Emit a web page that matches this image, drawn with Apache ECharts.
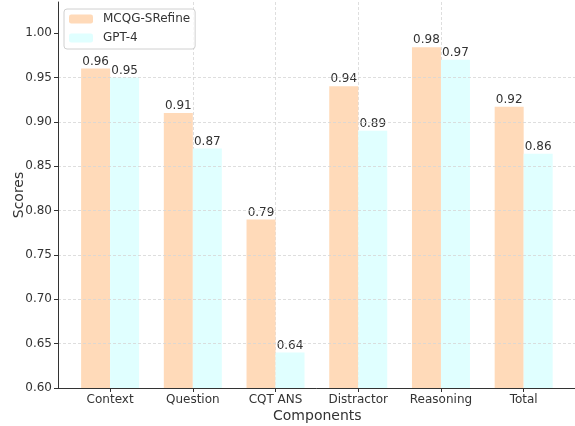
<!DOCTYPE html>
<html>
<head>
<meta charset="utf-8">
<script src="https://cdn.jsdelivr.net/npm/echarts@6/dist/echarts.min.js"></script>
<style>
html,body{margin:0;padding:0;background:#fff;}
#chart{width:575px;height:426px;}
</style>
</head>
<body>
<div id="chart"></div>
<script>
var categories = ["Context", "Question", "CQT ANS", "Distractor", "Reasoning", "Total"];
var seriesNames = ["MCQG-SRefine", "GPT-4"];
var mcqgScores = [0.96, 0.91, 0.79, 0.94, 0.984, 0.917];
var gpt4Scores = [0.95, 0.87, 0.64, 0.89, 0.97, 0.864];
var yTicks = [0.60, 0.65, 0.70, 0.75, 0.80, 0.85, 0.90, 0.95, 1.00];
var xTicks = [0, 1, 2, 3, 4, 5];

var FONT = "DejaVu Sans";
var TXT = "#333";

function toPairs(arr) { return arr.map(function (v, i) { return [i, v]; }); }

var chart = echarts.init(document.getElementById('chart'), null, {renderer: 'canvas'});
var labelOpt = {
  show: true, position: 'top', distance: 1,
  fontFamily: FONT, fontSize: 12, color: TXT,
  formatter: function (p) { return p.value[1].toFixed(2); }
};
chart.setOption({
  animation: false,
  backgroundColor: '#fff',
  textStyle: {fontFamily: FONT},
  grid: {left: 58, right: -1.6, top: 2, bottom: 38, containLabel: false, outerBoundsMode: 'none'},
  legend: {
    left: 64, top: 9,
    orient: 'vertical',
    padding: [4, 5, 5, 5],
    itemWidth: 24, itemHeight: 9, itemGap: 7,
    backgroundColor: 'rgba(255,255,255,0.8)',
    borderColor: '#d0d0d0', borderWidth: 1, borderRadius: 3,
    textStyle: {fontFamily: FONT, fontSize: 12, color: TXT, padding: [0, 0, 0, 5]},
    data: seriesNames
  },
  xAxis: {
    type: 'value', min: -0.63, max: 5.64,
    name: 'Components', nameLocation: 'middle', nameGap: 21,
    nameMoveOverlap: false,
    nameTextStyle: {fontFamily: FONT, fontSize: 14, color: TXT},
    axisLine: {show: true, onZero: false, lineStyle: {color: '#333', width: 1}},
    axisTick: {show: true, length: 4, customValues: xTicks, lineStyle: {color: '#333'}},
    axisLabel: {
      customValues: xTicks, margin: 6,
      fontFamily: FONT, fontSize: 12, color: TXT,
      formatter: function (v) { return categories[Math.round(v)] || ''; }
    },
    splitLine: {show: true, showMinLine: false, showMaxLine: false,
      lineStyle: {color: '#d5d5d5', type: [3, 2], width: 0.8}}
  },
  yAxis: {
    type: 'value', min: 0.6, max: 1.035, z: 10,
    name: 'Scores', nameLocation: 'middle', nameGap: 32,
    nameMoveOverlap: false,
    nameTextStyle: {fontFamily: FONT, fontSize: 14, color: TXT},
    axisLine: {show: true, onZero: false, lineStyle: {color: '#333', width: 1}},
    axisTick: {show: true, length: 4, customValues: yTicks, lineStyle: {color: '#333'}},
    axisLabel: {
      customValues: yTicks, margin: 6,
      fontFamily: FONT, fontSize: 12, color: TXT,
      formatter: function (v) { return v.toFixed(2); }
    },
    splitLine: {show: true, showMinLine: false, showMaxLine: false,
      lineStyle: {color: '#d5d5d5', type: [3, 2], width: 0.8}}
  },
  series: [
    {
      name: seriesNames[0], type: 'bar', data: toPairs(mcqgScores),
      barWidth: 29, barGap: '0%',
      itemStyle: {color: '#FFDAB9'}, label: labelOpt
    },
    {
      name: seriesNames[1], type: 'bar', data: toPairs(gpt4Scores),
      barWidth: 29, barGap: '0%',
      itemStyle: {color: '#E0FFFF'}, label: labelOpt
    }
  ]
});
</script>
</body>
</html>
